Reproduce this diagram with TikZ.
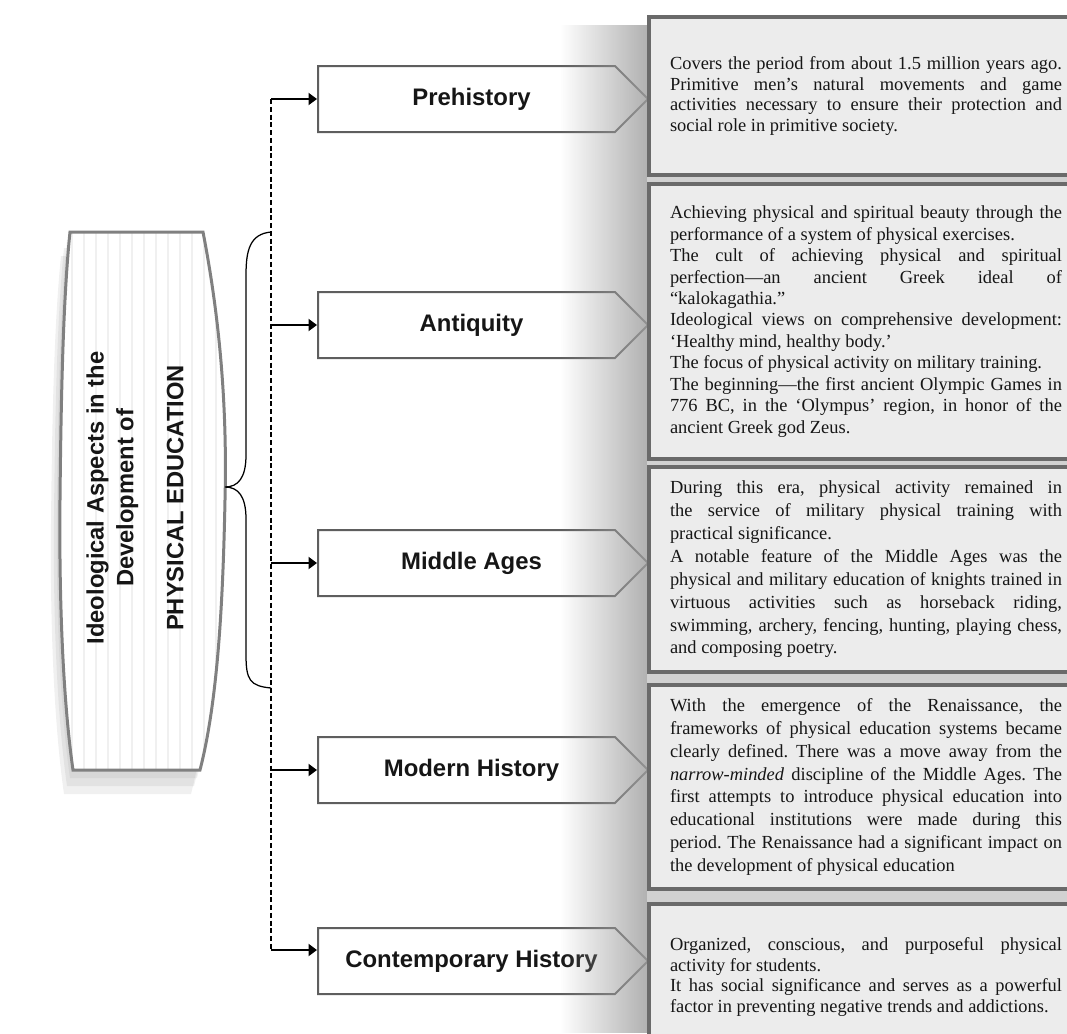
\documentclass[tikz,border=0pt]{standalone}
\usepackage{fontspec}
\setmainfont{Liberation Serif}
\setsansfont{Liberation Sans}
\frenchspacing
\usetikzlibrary{arrows.meta,shapes.symbols,fadings,patterns.meta}
\definecolor{Ink}{HTML}{161616}
\definecolor{Frame}{HTML}{6A6A6A}
\definecolor{BarLine}{HTML}{5E5E5E}
\definecolor{Paper}{HTML}{ECECEC}
\tikzfading[name=shadowfade, left color=transparent!100, right color=transparent!0]
\newcommand\barrelpath{(70,232) -- (203,232) .. controls (222,330) and (227,420) .. (225,500) .. controls (223,600) and (218,700) .. (200,770) -- (73,770) .. controls (63,700) and (59,600) .. (60,500) .. controls (61,400) and (63,300) .. (70,232) -- cycle}
\tikzset{
  title/.style={
    rotate=90, align=center, text=Ink,
    font=\sffamily\bfseries\fontsize{13.5}{17}\selectfont
  },
  era/.style={
    shape=signal, signal to=east, signal pointer angle=90,
    draw=BarLine, line width=.4mm, fill=white, anchor=west,
    minimum width=66mm, minimum height=13.2mm, inner sep=0pt, text=Ink,
    font=\sffamily\bfseries\fontsize{13.6}{16}\selectfont
  },
  note/.style={
    draw=Frame, line width=.8mm, fill=Paper, anchor=north west,
    text width=78.4mm, inner xsep=4.2mm, inner ysep=0pt, align=justify,
    text=Ink, font=\fontsize{10.5}{#1}\selectfont
  },
  flow/.style={-{Triangle[length=1.7mm,width=2.4mm]}, line width=.4mm, draw=black},
  trunk/.style={line width=.4mm, draw=black, dash pattern=on 1mm off .55mm},
  brace/.style={line width=.25mm, draw=black}
}
\begin{document}
\begin{tikzpicture}[x=0.2mm,y=-0.2mm]
  \useasboundingbox (0,0) rectangle (1067,1033);
  \clip (0,0) rectangle (1067,1033);
  % title barrel with its soft shadow
  \fill[black, opacity=.05, shift={(-3,8)}] \barrelpath;
  \fill[black, opacity=.06, shift={(-6,16)}] \barrelpath;
  \fill[black, opacity=.06, shift={(-9,24)}] \barrelpath;
  \fill[white] \barrelpath;
  \fill[pattern={Lines[angle=90,distance=2.4mm,line width=.25mm]}, pattern color=black!6] \barrelpath;
  \draw[draw=black!50, line width=.6mm] \barrelpath;
  \node[title] (main) at (135,498) {Ideological Aspects in the\\Development of\\[4mm]PHYSICAL EDUCATION};

  \coordinate (bracetop) at (271,232);
  \coordinate (bracetip) at (225,487);
  \coordinate (bracebot) at (271,688);
  \draw[brace] (bracetop) .. controls (250,234) and (246,250) .. (246,275) -- (246,455)
    .. controls (246,478) and (238,487) .. (bracetip)
    .. controls (238,487) and (246,496) .. (246,519) -- (246,655)
    .. controls (246,680) and (250,686) .. (bracebot);

  % eras
  \node[era] (pre) at (317,99) {\hspace*{2mm}Prehistory};
  \node[era] (ant) at (317,325) {\hspace*{2mm}Antiquity};
  \node[era] (mid) at (317,563) {\hspace*{2mm}Middle Ages};
  \node[era] (mod) at (317,770) {\hspace*{2mm}Modern History};
  \node[era] (con) at (317,961) {\hspace*{2mm}Contemporary History};

  \coordinate (head) at (271,99);
  \coordinate (foot) at (271,950);
  \draw[trunk] (head) -- (foot);
  \draw[flow] (head) -- (pre.west);
  \draw[flow] (head|-ant.west) -- (ant.west);
  \draw[flow] (head|-mid.west) -- (mid.west);
  \draw[flow] (head|-mod.west) -- (mod.west);
  \draw[flow] (foot) -- (foot-|con.west);

  % shadow behind the notes
  \fill[black!38, path fading=shadowfade] (560,24) rectangle (668,1033);
  \fill[black!18] (647,172) rectangle (1067,184);
  \fill[black!18] (647,456) rectangle (1067,467);
  \fill[black!18] (647,669) rectangle (1067,685);
  \fill[black!18] (647,886) rectangle (1067,904);

  % notes
  \node[note=11.6pt, minimum height=31.6mm] (prenote) at (647,15) {Covers the period from about 1.5 million years ago.\linebreak Primitive men’s natural movements and game\linebreak activities necessary to ensure their protection and\linebreak social role in primitive society.};
  \node[note=12.2pt, minimum height=55mm] (antnote) at (647,182) {Achieving physical and spiritual beauty through the\linebreak performance of a system of physical exercises.\\ The cult of achieving physical and spiritual\linebreak perfection—an ancient Greek ideal of\linebreak “kalokagathia.”\\ Ideological views on comprehensive development:\linebreak ‘Healthy mind, healthy body.’\\ The focus of physical activity on military training.\\ The beginning—the first ancient Olympic Games in\linebreak 776 BC, in the ‘Olympus’ region, in honor of the\linebreak ancient Greek god Zeus.};
  \node[note=13pt, minimum height=41mm] (midnote) at (647,465) {During this era, physical activity remained in\linebreak the service of military physical training with\linebreak practical significance.\\ A notable feature of the Middle Ages was the\linebreak physical and military education of knights trained in\linebreak virtuous activities such as horseback riding,\linebreak swimming, archery, fencing, hunting, playing chess,\linebreak and composing poetry.};
  \node[note=13pt, minimum height=40.8mm] (modnote) at (647,683) {With the emergence of the Renaissance, the\linebreak frameworks of physical education systems became\linebreak clearly defined. There was a move away from the\linebreak \textit{narrow-minded} discipline of the Middle Ages. The\linebreak first attempts to introduce physical education into\linebreak educational institutions were made during this\linebreak period. The Renaissance had a significant impact on\linebreak the development of physical education};
  \node[note=11.6pt, minimum height=29.2mm] (connote) at (647,902) {Organized, conscious, and purposeful physical\linebreak activity for students.\\ It has social significance and serves as a powerful\linebreak factor in preventing negative trends and addictions.};
\end{tikzpicture}
\end{document}
